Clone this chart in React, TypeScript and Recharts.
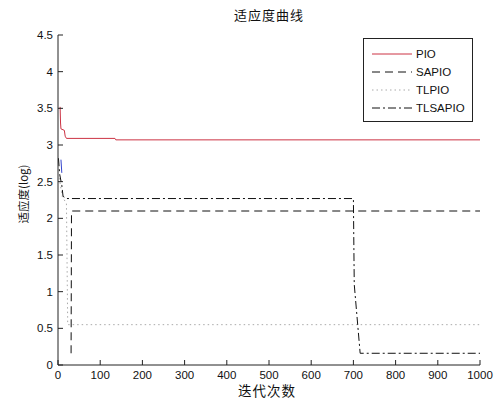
import { LineChart, Line, XAxis, YAxis, Legend } from 'recharts';

const X_TICKS = [0, 100, 200, 300, 400, 500, 600, 700, 800, 900, 1000];
const Y_TICKS = [0, 0.5, 1, 1.5, 2, 2.5, 3, 3.5, 4, 4.5];

// fitness curves (iteration, log fitness)
const PIO_ITER = [5, 6, 7, 15, 17, 20, 135, 137, 1000];
const PIO_FIT = [3.52, 3.3, 3.22, 3.2, 3.12, 3.09, 3.09, 3.07, 3.07];

const SAPIO_ITER = [31, 32, 1000];
const SAPIO_FIT = [0.16, 2.1, 2.1];

const TLPIO_ITER = [3, 10, 20, 23, 1000];
const TLPIO_FIT = [2.55, 2.3, 2.2, 0.55, 0.55];

const TLSAPIO_ITER = [1, 4, 9, 12, 20, 700, 702, 716, 1000];
const TLSAPIO_FIT = [2.82, 2.6, 2.45, 2.3, 2.27, 2.27, 1.1, 0.16, 0.16];

// short blue stub near the start, not in the legend
const STUB_ITER = [7, 9];
const STUB_FIT = [2.8, 2.62];

const toPoints = (xs: number[], ys: number[]) => xs.map((x, i) => ({ iter: x, fit: ys[i] }));

const FONT = '"Liberation Sans", Arial, sans-serif';
const CJK = '"Noto Sans CJK SC", sans-serif';

const SERIES = [
  { name: 'PIO', data: toPoints(PIO_ITER, PIO_FIT), stroke: '#cc3344', dash: undefined as string | undefined },
  { name: 'SAPIO', data: toPoints(SAPIO_ITER, SAPIO_FIT), stroke: '#111', dash: '8 5' },
  { name: 'TLPIO', data: toPoints(TLPIO_ITER, TLPIO_FIT), stroke: '#aaa', dash: '1.5 3' },
  { name: 'TLSAPIO', data: toPoints(TLSAPIO_ITER, TLSAPIO_FIT), stroke: '#111', dash: '8 3 2 3' },
];

function LegendBox() {
  return (
    <div
      style={{
        border: '1px solid #222',
        background: '#fff',
        width: 108,
        padding: '6px 0 4px 0',
        fontFamily: FONT,
        fontSize: 11.5,
        color: '#111',
      }}
    >
      {SERIES.map((s) => (
        <div key={s.name} style={{ display: 'flex', alignItems: 'center', height: 18 }}>
          <svg width={48} height={10} style={{ marginLeft: 4 }}>
            <line x1={4} y1={5} x2={44} y2={5} stroke={s.stroke} strokeWidth={1} strokeDasharray={s.dash} />
          </svg>
          <span>{s.name}</span>
        </div>
      ))}
    </div>
  );
}

export default function App() {
  const tickStyle = { fill: '#111', fontSize: 11.5, fontFamily: FONT };
  return (
    <div style={{ position: 'absolute', left: 0, top: 0, width: 497, height: 401, background: '#fff' }}>
      <div
        style={{
          position: 'absolute', left: 0, width: 538, top: 5, textAlign: 'center',
          fontFamily: CJK, fontSize: 13, color: '#111', letterSpacing: 1,
        }}
      >
        适应度曲线
      </div>
      <div
        style={{
          position: 'absolute', left: 23, top: 194, transform: 'translate(-50%, -50%) rotate(-90deg)',
          fontFamily: CJK, fontSize: 11.5, color: '#111', whiteSpace: 'nowrap',
        }}
      >
        适应度(log)
      </div>
      <div
        style={{
          position: 'absolute', left: 0, width: 534, top: 380, textAlign: 'center',
          fontFamily: CJK, fontSize: 13.5, color: '#111', letterSpacing: 1,
        }}
      >
        迭代次数
      </div>
      <LineChart width={497} height={401} margin={{ top: 35, right: 17, left: 18, bottom: 0 }}>
        <XAxis
          xAxisId="bottom"
          dataKey="iter"
          type="number"
          domain={[0, 1000]}
          ticks={X_TICKS}
          allowDataOverflow
          height={36}
          tickSize={-5}
          tickMargin={11}
          tick={tickStyle}
          stroke="#222"
        />
        <XAxis
          xAxisId="top"
          orientation="top"
          dataKey="iter"
          type="number"
          domain={[0, 1000]}
          ticks={X_TICKS}
          height={0}
          tickSize={-5}
          tick={false}
          stroke="#222"
        />
        <YAxis
          yAxisId="left"
          type="number"
          domain={[0, 4.5]}
          ticks={Y_TICKS}
          allowDataOverflow
          width={40}
          tickSize={-5}
          tickMargin={10}
          tick={tickStyle}
          stroke="#222"
        />
        <YAxis
          yAxisId="right"
          orientation="right"
          type="number"
          domain={[0, 4.5]}
          ticks={Y_TICKS}
          width={0}
          tickSize={-5}
          tick={false}
          stroke="#222"
        />
        <Legend
          layout="vertical"
          align="center"
          verticalAlign="middle"
          wrapperStyle={{ left: 363, top: 38, width: 110 }}
          content={() => <LegendBox />}
        />
        {SERIES.map((s) => (
          <Line
            key={s.name}
            name={s.name}
            data={s.data}
            dataKey="fit"
            xAxisId="bottom"
            yAxisId="left"
            type="linear"
            stroke={s.stroke}
            strokeWidth={1}
            strokeDasharray={s.dash}
            dot={false}
            isAnimationActive={false}
          />
        ))}
        <Line
          name="stub"
          data={toPoints(STUB_ITER, STUB_FIT)}
          dataKey="fit"
          xAxisId="bottom"
          yAxisId="left"
          type="linear"
          stroke="#3344cc"
          strokeWidth={1}
          dot={false}
          legendType="none"
          isAnimationActive={false}
        />
      </LineChart>
    </div>
  );
}
